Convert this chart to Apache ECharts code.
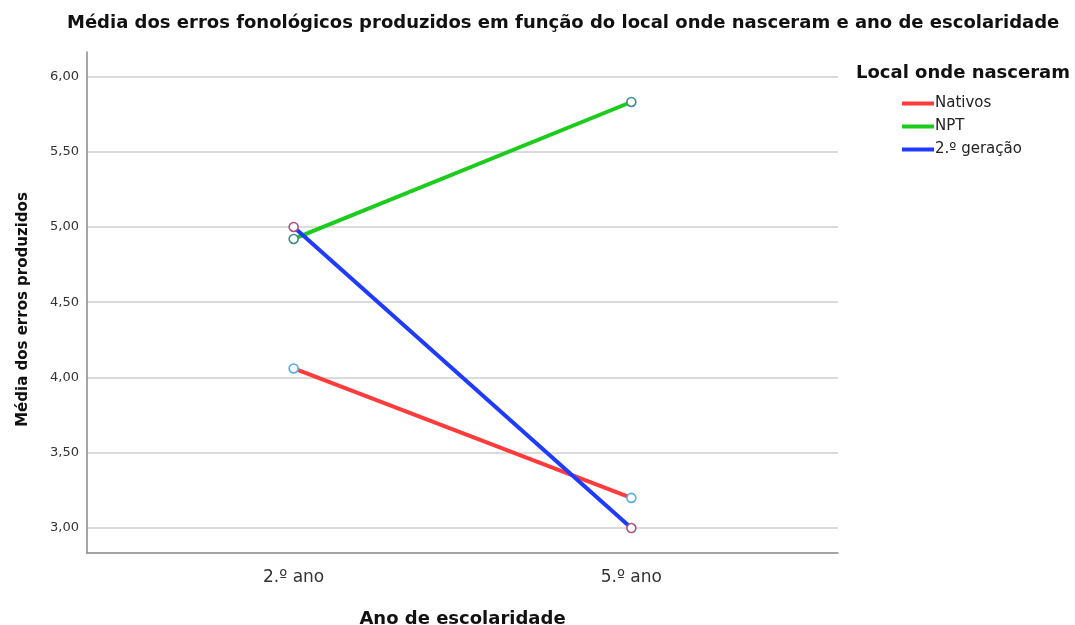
<!DOCTYPE html>
<html><head><meta charset="utf-8">
<script src="https://cdn.jsdelivr.net/npm/echarts@6/dist/echarts.min.js"></script>
<style>html,body{margin:0;padding:0;background:#fff}#c{width:1075px;height:625px}</style>
</head><body><div id="c"></div>
<script>
const categories = ['2.º ano', '5.º ano'];
const seriesNames = ['Nativos', 'NPT', '2.º geração'];
const nativos = [4.06, 3.20];
const npt = [4.92, 5.83];
const segundaGeracao = [5.00, 3.00];
const yTickValues = [3.0, 3.5, 4.0, 4.5, 5.0, 5.5, 6.0];

const lineColors = ['#ff3b3b', '#1ccc1c', '#1f3bff'];
const markerColors = ['#52aeea', '#3d8c8c', '#b24f7e'];
const values = [nativos, npt, segundaGeracao];
const FONT = 'DejaVu Sans';

const chart = echarts.init(document.getElementById('c'), null, {renderer: 'canvas'});

const series = seriesNames.map((name, s) => ({
  name: name,
  type: 'line',
  data: categories.map((c, i) => [i, values[s][i]]),
  symbol: 'circle',
  symbolSize: 9,
  showSymbol: true,
  lineStyle: {color: lineColors[s], width: 4},
  itemStyle: {color: '#ffffff', borderColor: markerColors[s], borderWidth: 1.6},
  emphasis: {disabled: true},
  z: 2 + s,
  animation: false
}));

chart.setOption({
  animation: false,
  backgroundColor: '#ffffff',
  textStyle: {fontFamily: FONT},
  title: [{
    text: 'Média dos erros fonológicos produzidos em função do local onde nasceram e ano de escolaridade',
    left: 62,
    top: 9,
    textStyle: {fontFamily: FONT, fontSize: 18, fontWeight: 'bold', color: '#111'}
  }, {
    text: 'Local onde nasceram',
    left: 851,
    top: 59,
    textStyle: {fontFamily: FONT, fontSize: 18, fontWeight: 'bold', color: '#111'}
  }],
  legend: {
    orient: 'vertical',
    left: 897,
    top: 91,
    itemWidth: 32,
    itemHeight: 4,
    itemGap: 8,
    icon: 'rect',
    textStyle: {fontFamily: FONT, fontSize: 15, color: '#222', padding: [0, 0, 0, -4]},
    data: seriesNames.map((n, s) => ({name: n, itemStyle: {color: lineColors[s], borderWidth: 0}}))
  },
  grid: {left: 87, right: 237, top: 52, bottom: 72, containLabel: false, outerBoundsMode: 'none'},
  xAxis: {
    type: 'value',
    min: -0.612,
    max: 1.612,
    name: 'Ano de escolaridade',
    nameLocation: 'middle',
    nameGap: 57,
    nameTextStyle: {fontFamily: FONT, fontSize: 18, fontWeight: 'bold', color: '#111'},
    axisLine: {show: true, onZero: false, lineStyle: {color: '#888', width: 1.5}},
    axisTick: {show: false},
    splitLine: {show: false},
    axisLabel: {
      margin: 16,
      fontFamily: FONT,
      fontSize: 17,
      color: '#333',
      showMinLabel: false,
      showMaxLabel: false,
      formatter: v => (Math.abs(v - Math.round(v)) < 1e-6 && categories[Math.round(v)] !== undefined) ? categories[Math.round(v)] : ''
    }
  },
  yAxis: {
    type: 'value',
    min: 2.834,
    max: 6.162,
    splitNumber: 7,
    axisLine: {show: true, onZero: false, lineStyle: {color: '#888', width: 1.5}},
    axisTick: {show: false},
    splitLine: {show: true, showMinLine: false, showMaxLine: false, lineStyle: {color: '#cfcfcf', width: 1.5}},
    axisLabel: {
      margin: 8,
      fontFamily: FONT,
      fontSize: 13,
      color: '#333',
      showMinLabel: false,
      showMaxLabel: false,
      formatter: v => yTickValues.some(t => Math.abs(t - v) < 1e-6) ? v.toFixed(2).replace('.', ',') : ''
    }
  },
  graphic: [{
    type: 'text',
    rotation: Math.PI / 2,
    x: 23, y: 309.5,
    style: {text: 'Média dos erros produzidos', fontFamily: FONT, fontSize: 15, fontWeight: 'bold', fill: '#111', align: 'center', verticalAlign: 'middle'}
  }],
  series: series
});
</script></body></html>
